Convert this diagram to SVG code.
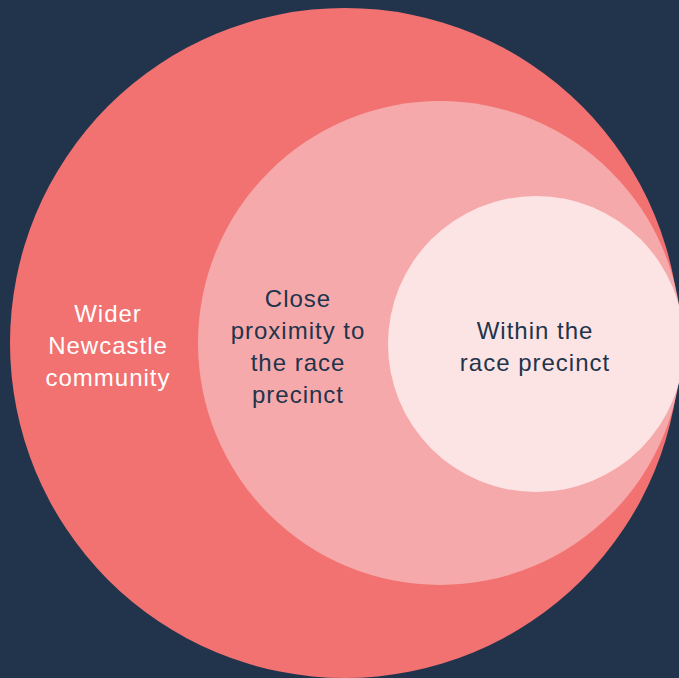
<svg xmlns="http://www.w3.org/2000/svg" width="679" height="678" viewBox="0 0 679 678">
<style>
.t{font-family:"Liberation Sans",Arial,sans-serif;font-size:24px;text-anchor:middle;letter-spacing:1px}
.w{fill:#ffffff}
.d{fill:#22344c}
</style>
<rect width="679" height="678" fill="#22344c"/>
<g id="outer">
<circle cx="345" cy="343" r="335" fill="#f27272"/>
<text class="t w" x="108" y="322">Wider</text>
<text class="t w" x="108" y="354">Newcastle</text>
<text class="t w" x="108" y="386">community</text>
</g>
<g id="middle">
<circle cx="440" cy="343" r="242" fill="#f6a9aa"/>
<text class="t d" x="298" y="307">Close</text>
<text class="t d" x="298" y="339">proximity to</text>
<text class="t d" x="298" y="371">the race</text>
<text class="t d" x="298" y="403">precinct</text>
</g>
<g id="inner">
<circle cx="536" cy="344" r="148" fill="#fce4e4"/>
<text class="t d" x="535" y="339">Within the</text>
<text class="t d" x="535" y="371">race precinct</text>
</g>
<g id="connectors"/>
</svg>
